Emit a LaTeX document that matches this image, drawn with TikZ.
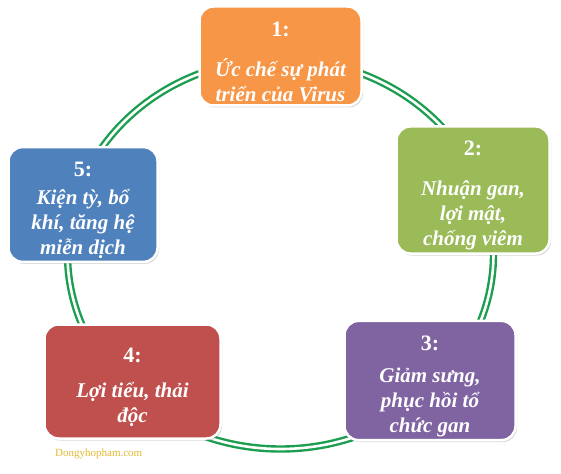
\documentclass[tikz,border=0pt]{standalone}
\usepackage{fontspec}
\setmainfont{Liberation Serif}
\usetikzlibrary{shadows}
\definecolor{ringgreen}{RGB}{28,158,80}
\definecolor{boxorange}{RGB}{247,150,70}
\definecolor{boxgreen}{RGB}{155,187,89}
\definecolor{boxpurple}{RGB}{128,100,162}
\definecolor{boxred}{RGB}{192,80,77}
\definecolor{boxblue}{RGB}{79,129,189}
\definecolor{markgold}{RGB}{226,184,48}
\begin{document}
\begin{tikzpicture}
			[x=1pt, y=-1pt, block/.style ={rounded corners=14pt, draw=white, line width=2.5pt, align=center, text=white,
				font=\fontsize{21}{25}\selectfont\bfseries\itshape,
				drop shadow={opacity=0.3, shadow xshift=1.5pt, shadow yshift=-2pt}},
			ring/.style ={draw=ringgreen, line width=2.4pt, double=white, double distance=2.6pt}]
			\useasboundingbox (0,0) rectangle (561,473);
			\draw[ring] (280.5,254) ellipse [x radius=213pt, y radius=195pt];
			\node[block, fill=boxorange, minimum width=162pt, minimum height=99pt] (b1) at (280.5,56)
				{{\upshape\fontsize{22}{25}\selectfont\rule{0pt}{26pt}1:}\\[15pt] Ức chế sự phát\\ triển của Virus};
			\node[block, fill=boxgreen, minimum width=153pt, minimum height=123pt] (b2) at (473,190)
				{{\upshape\fontsize{22}{25}\selectfont\rule{0pt}{26pt}2:}\\[15pt] Nhuận gan,\\ lợi mật,\\ chống viêm};
			\node[block, fill=boxpurple, minimum width=171pt, minimum height=112pt] (b3) at (430,380.5)
				{{\upshape\fontsize{22}{25}\selectfont\rule{0pt}{26pt}3:}\\[7pt] Giảm sưng,\\ phục hồi tổ\\ chức gan};
			\node[block, fill=boxred, minimum width=176pt, minimum height=114pt] (b4) at (132.5,381.5)
				{{\upshape\fontsize{22}{25}\selectfont\rule{0pt}{26pt}4:}\\[10pt] Lợi tiểu, thải\\ độc};
			\node[block, fill=boxblue, minimum width=149pt, minimum height=112pt] (b5) at (83,204.5)
				{{\upshape\fontsize{22}{25}\selectfont\rule{0pt}{26pt}5:}\\[3pt] Kiện tỳ, bổ\\ khí, tăng hệ\\ miễn dịch};
			\node[font=\fontsize{11}{13}\selectfont, text=markgold, anchor=west, inner sep=0pt] (mark) at (55,454) {Dongyhopham.com};
		\end{tikzpicture}
\end{document}
